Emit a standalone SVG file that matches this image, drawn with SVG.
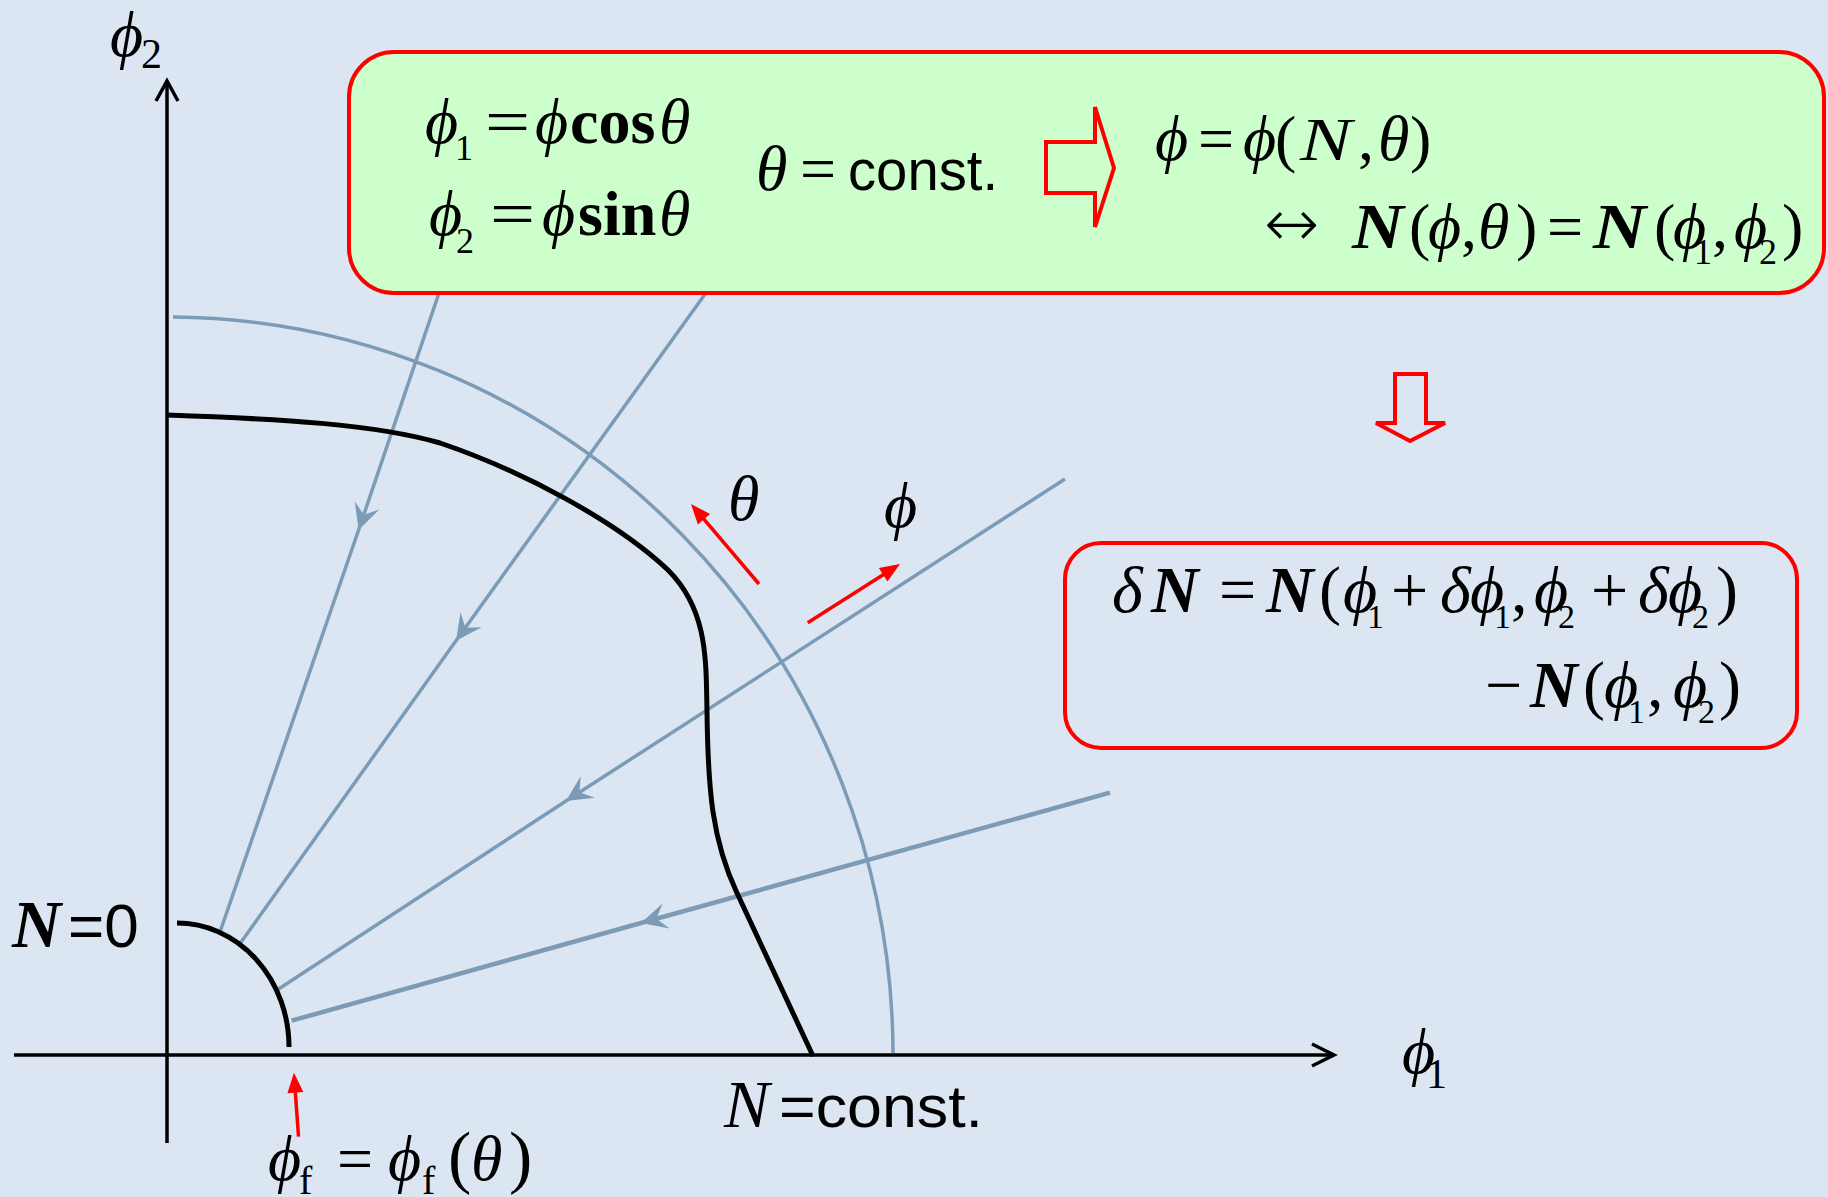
<svg xmlns="http://www.w3.org/2000/svg" width="1828" height="1197" viewBox="0 0 1828 1197">
<style>
.mt{font-family:"Liberation Serif","Times New Roman","DejaVu Serif",serif;fill:#000}
.sf{font-family:"Liberation Sans",Arial,sans-serif;fill:#000}
.it{font-style:italic}
.bd{font-weight:bold}
.blue{fill:none;stroke:#7b9bb7;stroke-width:3.5}
.blk{fill:none;stroke:#000;stroke-width:5}
.axis{fill:none;stroke:#000;stroke-width:3.5}
.red{fill:none;stroke:#ff0000;stroke-width:4}
.redarr{fill:none;stroke:#ff0000;stroke-width:3.5}
</style>
<defs>
<marker id="bluehead" markerUnits="userSpaceOnUse" markerWidth="60" markerHeight="60" refX="0" refY="0" orient="auto" overflow="visible">
<path d="M0,0 L-26,-13 L-16,0 L-26,13 Z" fill="#7b9bb7"/>
</marker>
<marker id="redhead" markerUnits="userSpaceOnUse" markerWidth="40" markerHeight="40" refX="0" refY="0" orient="auto" overflow="visible">
<path d="M-8,-8 L12,0 L-8,8 Z" fill="#ff0000"/>
</marker>
</defs>
<rect width="1828" height="1197" fill="#dce6f2"/>

<g id="connectors">
<path class="blue" d="M173,317 A726,738 0 0 1 893,1053"/>
<polyline class="blue" points="440,290 358.6,530 220,932" marker-mid="url(#bluehead)"/>
<polyline class="blue" points="708,290 456,640.7 239,945" marker-mid="url(#bluehead)"/>
<polyline class="blue" points="1065,479 566,801 274.4,991.7" marker-mid="url(#bluehead)"/>
<polyline class="blue" style="stroke-width:4.5" points="1110,792.7 641,923 291.6,1020.7" marker-mid="url(#bluehead)"/>
<path class="blk" d="M177,923 A112,124 0 0 1 289,1047"/>
<path class="blk" d="M167,415 C280,419 375,424 440,443 C520,470 615,520 668,570 C708,610 706,660 707,712 C708,790 712,840 737,893 L813,1056"/>
<line class="axis" x1="167" y1="1143" x2="167" y2="82"/>
<polyline class="axis" points="156,101 167,81 178,101"/>
<line class="axis" x1="14" y1="1055" x2="1333" y2="1055"/>
<polyline class="axis" points="1312,1044 1334,1055 1312,1066"/>
<line class="redarr" x1="759" y1="584" x2="698.8" y2="513.1" marker-end="url(#redhead)"/>
<line class="redarr" x1="807.7" y1="622.7" x2="889.9" y2="570.4" marker-end="url(#redhead)"/>
<line class="redarr" x1="298.5" y1="1136.7" x2="294.8" y2="1084.7" marker-end="url(#redhead)"/>
</g>

<g id="axis-labels">
<text class="mt it" x="110" y="56" font-size="64">ϕ</text>
<text class="mt" x="141" y="68" font-size="42">2</text>
<text class="mt it" x="1402" y="1073" font-size="64">ϕ</text>
<text class="mt" x="1426" y="1088" font-size="42">1</text>
</g>

<g id="label-N0">
<text class="mt it bd" x="12" y="947" font-size="68">N</text>
<text class="sf" x="68" y="947" font-size="62">=0</text>
</g>

<g id="label-Nconst">
<text class="mt it" x="724" y="1127" font-size="68">N</text>
<text class="sf" x="779" y="1127" font-size="60" textLength="204" lengthAdjust="spacingAndGlyphs">=const.</text>
</g>

<g id="label-theta">
<text class="mt it" x="728" y="520" font-size="64">θ</text>
</g>
<g id="label-phi">
<text class="mt it" x="884" y="527" font-size="64">ϕ</text>
</g>

<g id="label-phif">
<text class="mt" font-size="64" y="1180"><tspan class="it" x="268">ϕ</tspan><tspan x="299" y="1194" font-size="40">f</tspan><tspan x="337" y="1180">=</tspan><tspan class="it" x="388">ϕ</tspan><tspan x="422" y="1194" font-size="40">f</tspan><tspan x="448" y="1180" font-size="70">(</tspan><tspan class="it" x="471">θ</tspan><tspan x="509" font-size="70">)</tspan></text>
</g>

<g id="box-polar">
<rect x="349" y="52" width="1475" height="241" rx="45" ry="45" fill="#ccffcc" stroke="#ff0000" stroke-width="4"/>
<text class="mt" font-size="64" y="143"><tspan class="it" x="425">ϕ</tspan><tspan x="455" y="160" font-size="36">1</tspan><tspan class="it" x="535" y="143">ϕ</tspan><tspan class="bd" x="570">cos</tspan><tspan class="it" x="659">θ</tspan></text>
<text class="mt" font-size="64" transform="translate(485,143) scale(1.25,1)">=</text>
<text class="mt" font-size="64" y="235"><tspan class="it" x="429">ϕ</tspan><tspan x="456" y="253" font-size="36">2</tspan><tspan class="it" x="542" y="235">ϕ</tspan><tspan class="bd" x="578">sin</tspan><tspan class="it" x="659">θ</tspan></text>
<text class="mt" font-size="64" transform="translate(490,235) scale(1.25,1)">=</text>
<text class="mt" font-size="64" y="190"><tspan class="it" x="756">θ</tspan><tspan x="800">=</tspan></text>
<text class="sf" x="848" y="190" font-size="57" textLength="150" lengthAdjust="spacingAndGlyphs">const.</text>
<polygon class="red" points="1046,142 1095,142 1095,107 1114,168 1095,227 1095,193 1046,193"/>
<text class="mt" font-size="64" y="160"><tspan class="it" x="1155">ϕ</tspan><tspan x="1198">=</tspan><tspan class="it" x="1243">ϕ</tspan><tspan x="1275">(</tspan><tspan x="1358">,</tspan><tspan class="it" x="1378">θ</tspan><tspan x="1410">)</tspan></text>
<text class="mt it" font-size="62" transform="translate(1300,160) scale(1.25,1)">N</text>
<text font-family="DejaVu Sans, sans-serif" font-weight="200" font-size="66" x="1264" y="246">↔</text>
<text class="mt" font-size="64" y="248"><tspan x="1409">(</tspan><tspan class="it" x="1428">ϕ</tspan><tspan x="1461">,</tspan><tspan class="it" x="1478">θ</tspan><tspan x="1516">)</tspan><tspan x="1547">=</tspan><tspan x="1654">(</tspan><tspan class="it" x="1673">ϕ</tspan><tspan x="1694" y="264" font-size="36">1</tspan><tspan x="1712" y="248">,</tspan><tspan class="it" x="1734">ϕ</tspan><tspan x="1759" y="264" font-size="36">2</tspan><tspan x="1782" y="248">)</tspan></text>
<text class="mt it bd" font-size="64" transform="translate(1352,248) scale(1.12,1)">N</text>
<text class="mt it bd" font-size="64" transform="translate(1593,248) scale(1.15,1)">N</text>
</g>

<g id="arrow-down">
<polygon class="red" stroke-width="3.5" points="1395,374 1426,374 1426,423 1445,423 1410,441 1376,423 1395,423"/>
</g>

<g id="box-deltaN">
<rect x="1065" y="543" width="732" height="205" rx="36" ry="36" fill="none" stroke="#ff0000" stroke-width="4"/>
<text class="mt" font-size="66" y="612"><tspan class="it" x="1112">δ</tspan><tspan class="it bd" x="1151">N</tspan><tspan x="1219">=</tspan><tspan class="it bd" x="1266">N</tspan><tspan x="1319">(</tspan><tspan class="it" x="1343">ϕ</tspan><tspan x="1367" y="628" font-size="34">1</tspan><tspan x="1391" y="612">+</tspan><tspan class="it" x="1440">δ</tspan><tspan class="it" x="1470">ϕ</tspan><tspan x="1494" y="628" font-size="34">1</tspan><tspan x="1511" y="612">,</tspan><tspan class="it" x="1534">ϕ</tspan><tspan x="1558" y="628" font-size="34">2</tspan><tspan x="1591" y="612">+</tspan><tspan class="it" x="1638">δ</tspan><tspan class="it" x="1668">ϕ</tspan><tspan x="1692" y="628" font-size="34">2</tspan><tspan x="1716" y="612">)</tspan></text>
<text class="mt" font-size="66" y="707"><tspan x="1485">−</tspan><tspan class="it bd" x="1530">N</tspan><tspan x="1583">(</tspan><tspan class="it" x="1604">ϕ</tspan><tspan x="1628" y="723" font-size="34">1</tspan><tspan x="1647" y="707">,</tspan><tspan class="it" x="1673">ϕ</tspan><tspan x="1698" y="723" font-size="34">2</tspan><tspan x="1719" y="707">)</tspan></text>
</g>
</svg>
